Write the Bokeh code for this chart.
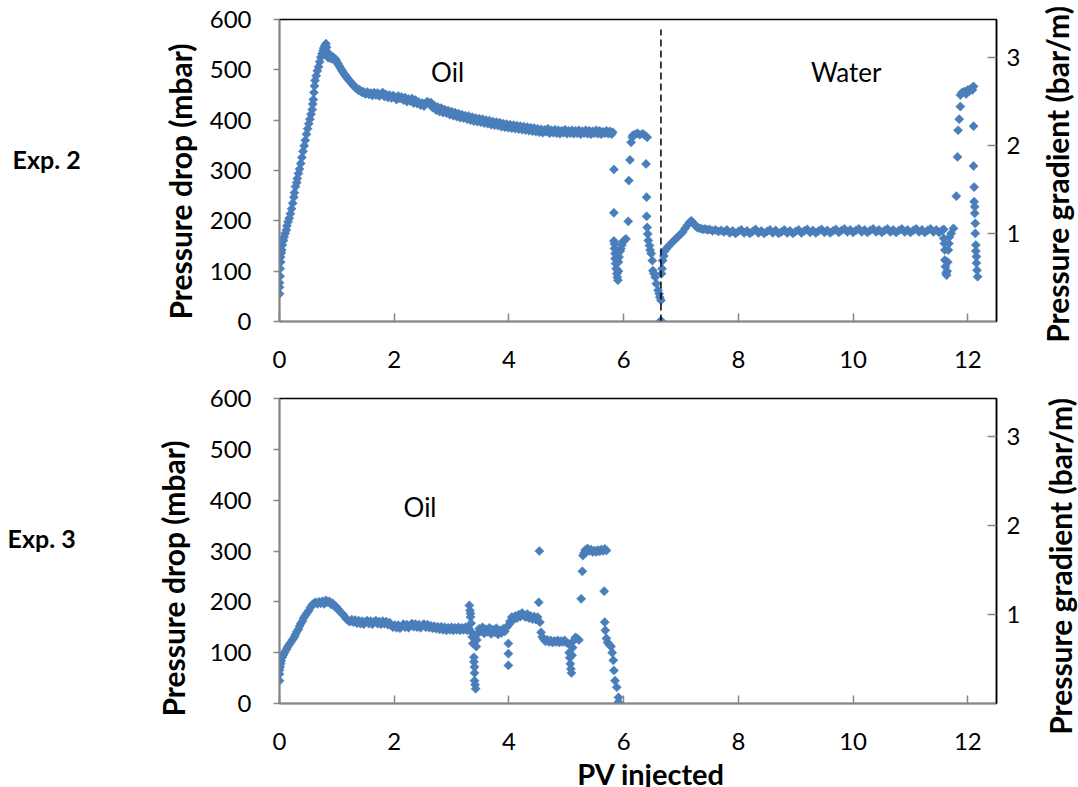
import math
from bokeh.plotting import figure
from bokeh.models import Range1d, LinearAxis, FixedTicker
from bokeh.layouts import column, row
from bokeh.core.properties import value
from bokeh.embed import file_html
from bokeh.resources import INLINE

# ---------------- data ----------------
pv_ticks = [0, 2, 4, 6, 8, 10, 12]
dp_ticks = [0, 100, 200, 300, 400, 500, 600]
gradient_ticks = [1, 2, 3]
gradient_axis_max = 3.43      # 600 mbar expressed as bar/m
switch_pv = 6.65               # oil -> water switch (Exp. 2)
switch_line_dp = [0, 580]

exp2_oil_pv = [
    0.00, 0.00, 0.00, 0.01, 0.01, 0.02, 0.02, 0.03, 0.04, 0.05,
    0.07, 0.08, 0.10, 0.12, 0.13, 0.15, 0.17, 0.19, 0.21, 0.23,
    0.25, 0.26, 0.28, 0.30, 0.31, 0.33, 0.35, 0.37, 0.39, 0.41,
    0.43, 0.45, 0.47, 0.49, 0.51, 0.53, 0.55, 0.57, 0.58, 0.59,
    0.60, 0.61, 0.62, 0.64, 0.66, 0.68, 0.70, 0.72, 0.74, 0.76,
    0.77, 0.79, 0.81, 0.82, 0.83, 0.84, 0.85, 0.86, 0.88, 0.90,
    0.92, 0.94, 0.96, 0.98, 1.00, 1.02, 1.04, 1.06, 1.08, 1.10,
    1.12, 1.14, 1.16, 1.18, 1.20, 1.22, 1.24, 1.26, 1.28, 1.30,
    1.32, 1.34, 1.36, 1.38, 1.40, 1.42, 1.44, 1.46, 1.48, 1.50,
    1.53, 1.56, 1.59, 1.62, 1.65, 1.68, 1.71, 1.74, 1.77, 1.80,
    1.83, 1.86, 1.89, 1.92, 1.95, 1.98, 2.01, 2.04, 2.07, 2.10,
    2.13, 2.16, 2.19, 2.22, 2.25, 2.28, 2.31, 2.34, 2.37, 2.40,
    2.43, 2.46, 2.49, 2.52, 2.55, 2.58, 2.61, 2.64, 2.67, 2.70,
    2.73, 2.76, 2.79, 2.82, 2.85, 2.88, 2.91, 2.94, 2.97, 3.00,
    3.03, 3.06, 3.09, 3.12, 3.15, 3.18, 3.21, 3.24, 3.27, 3.30,
    3.33, 3.36, 3.39, 3.42, 3.45, 3.48, 3.51, 3.54, 3.57, 3.60,
    3.63, 3.66, 3.69, 3.72, 3.75, 3.78, 3.81, 3.84, 3.87, 3.90,
    3.93, 3.96, 3.99, 4.02, 4.05, 4.08, 4.11, 4.14, 4.17, 4.20,
    4.23, 4.26, 4.29, 4.32, 4.35, 4.38, 4.41, 4.44, 4.47, 4.50,
    4.53, 4.56, 4.59, 4.62, 4.65, 4.68, 4.71, 4.74, 4.77, 4.80,
    4.83, 4.86, 4.89, 4.92, 4.95, 4.98, 5.01, 5.04, 5.07, 5.10,
    5.13, 5.16, 5.19, 5.22, 5.25, 5.28, 5.31, 5.34, 5.37, 5.40,
    5.43, 5.46, 5.49, 5.52, 5.55, 5.58, 5.61, 5.64, 5.67, 5.70,
    5.73, 5.76, 5.79,
]
exp2_oil_dp = [
    55, 68, 77, 90, 105, 118, 128, 136, 142, 152,
    161, 168, 175, 182, 190, 198, 205, 214, 224, 235,
    247, 256, 268, 276, 284, 294, 303, 314, 326, 338,
    349, 360, 372, 383, 393, 402, 412, 421, 432, 441,
    455, 468, 479, 488, 498, 506, 516, 525, 532, 538,
    543, 548, 552, 545, 536, 530, 524, 528, 526, 522,
    527, 524, 519, 521, 516, 512, 508, 504, 500, 497,
    493, 490, 487, 484, 481, 478, 476, 473, 470, 468,
    466, 463, 462, 459, 460, 457, 455, 457, 454, 452,
    456, 451, 454, 449, 455, 450, 454, 448, 452, 455,
    447, 451, 445, 450, 444, 449, 446, 441, 448, 443,
    446, 440, 445, 437, 442, 438, 443, 434, 440, 433,
    436, 430, 434, 428, 434, 437, 433, 435, 425, 429,
    420, 426, 417, 424, 415, 421, 414, 419, 411, 417,
    409, 415, 407, 413, 405, 411, 404, 409, 402, 408,
    400, 406, 398, 404, 397, 403, 396, 402, 394, 400,
    393, 399, 391, 397, 390, 396, 389, 395, 387, 393,
    386, 392, 385, 391, 384, 390, 383, 389, 382, 388,
    381, 387, 380, 386, 379, 385, 378, 384, 377, 383,
    376, 382, 375, 381, 377, 383, 374, 380, 375, 381,
    374, 380, 373, 379, 375, 381, 373, 379, 374, 380,
    373, 379, 374, 380, 372, 378, 374, 380, 373, 379,
    372, 378, 374, 380, 373, 379, 372, 377, 374, 379,
    373, 378, 372,
]

exp2_transition_pv = [
    5.81, 5.83, 5.83, 5.83, 5.84, 5.84, 5.85, 5.85, 5.86, 5.87,
    5.88, 5.89, 5.90, 5.91, 5.91, 5.92, 5.94, 5.95, 5.97, 5.98,
    6.01, 6.04, 6.08, 6.09, 6.11, 6.13, 6.15, 6.16, 6.20, 6.24,
    6.28, 6.33, 6.37, 6.41, 6.39, 6.40, 6.40, 6.41, 6.42, 6.43,
    6.45, 6.46, 6.48, 6.50, 6.51, 6.53, 6.55, 6.57, 6.60, 6.62,
    6.63, 6.65, 6.65,
]
exp2_transition_dp = [
    376, 302, 216, 160, 154, 145, 135, 125, 115, 105,
    95, 88, 82, 100, 118, 128, 140, 145, 152, 158,
    161, 164, 199, 280, 321, 356, 366, 370, 372, 374,
    371, 373, 370, 366, 313, 247, 209, 187, 174, 161,
    151, 142, 135, 121, 101, 95, 88, 75, 62, 55,
    48, 42, 2,
]

exp2_water_pv = [
    6.66, 6.67, 6.68, 6.70, 6.71, 6.74, 6.77, 6.81, 6.85, 6.90,
    6.94, 6.99, 7.03, 7.07, 7.11, 7.15, 7.18, 7.21, 7.24, 7.27,
    7.30, 7.34, 7.38, 7.42, 7.46, 7.50, 7.55, 7.60, 7.65, 7.70,
    7.75, 7.80, 7.85, 7.90, 7.95, 8.00, 8.05, 8.10, 8.15, 8.20,
    8.25, 8.30, 8.35, 8.40, 8.45, 8.50, 8.55, 8.60, 8.65, 8.70,
    8.75, 8.80, 8.85, 8.90, 8.95, 9.00, 9.05, 9.10, 9.15, 9.20,
    9.25, 9.30, 9.35, 9.40, 9.45, 9.50, 9.55, 9.60, 9.65, 9.70,
    9.75, 9.80, 9.85, 9.90, 9.95, 10.00, 10.05, 10.10, 10.15, 10.20,
    10.25, 10.30, 10.35, 10.40, 10.45, 10.50, 10.55, 10.60, 10.65, 10.70,
    10.75, 10.80, 10.85, 10.90, 10.95, 11.00, 11.05, 11.10, 11.15, 11.20,
    11.25, 11.30, 11.35, 11.40, 11.45, 11.50, 11.55, 11.58,
]
exp2_water_dp = [
    95, 105, 121, 130, 139, 144, 148, 153, 158, 163,
    168, 173, 178, 185, 191, 197, 200, 196, 192, 188,
    186, 185, 183, 184, 182, 183, 180, 182, 179, 181,
    178, 182, 176, 180, 175, 179, 182, 176, 180, 175,
    179, 183, 176, 180, 175, 179, 182, 176, 181, 175,
    178, 182, 176, 180, 175, 179, 182, 176, 180, 183,
    177, 181, 176, 180, 183, 177, 181, 176, 180, 183,
    177, 181, 184, 178, 182, 177, 181, 184, 178, 182,
    177, 181, 184, 178, 182, 177, 181, 184, 178, 182,
    177, 181, 184, 178, 182, 177, 181, 184, 178, 182,
    177, 181, 184, 178, 182, 177, 181, 183,
]

exp2_end_pv = [
    11.58, 11.59, 11.60, 11.60, 11.61, 11.62, 11.63, 11.64, 11.65, 11.66,
    11.67, 11.68, 11.71, 11.75, 11.80, 11.82, 11.83, 11.85, 11.87, 11.87,
    11.90, 11.94, 11.97, 12.00, 12.03, 12.06, 12.08, 12.10, 12.10, 12.10,
    12.11, 12.11, 12.12, 12.12, 12.13, 12.13, 12.14, 12.14, 12.15, 12.15,
    12.16, 12.17,
]
exp2_end_dp = [
    165, 155, 142, 122, 109, 96, 92, 100, 118, 142,
    155, 168, 175, 185, 249, 327, 380, 402, 427, 450,
    455, 457, 452, 460, 458, 463, 460, 467, 388, 309,
    267, 238, 228, 215, 195, 175, 152, 140, 129, 116,
    102, 89,
]

exp3_oil_pv = [
    0.00, 0.00, 0.00, 0.01, 0.02, 0.03, 0.05, 0.07, 0.09, 0.12,
    0.14, 0.17, 0.20, 0.23, 0.26, 0.28, 0.30, 0.33, 0.35, 0.37,
    0.40, 0.42, 0.45, 0.48, 0.51, 0.54, 0.57, 0.60, 0.63, 0.66,
    0.69, 0.72, 0.75, 0.78, 0.81, 0.84, 0.87, 0.90, 0.93, 0.96,
    0.99, 1.02, 1.05, 1.08, 1.11, 1.14, 1.17, 1.20, 1.23, 1.26,
    1.29, 1.32, 1.35, 1.38, 1.41, 1.44, 1.47, 1.50, 1.53, 1.56,
    1.59, 1.62, 1.65, 1.68, 1.71, 1.74, 1.77, 1.80, 1.83, 1.86,
    1.89, 1.92, 1.95, 1.98, 2.01, 2.04, 2.07, 2.10, 2.13, 2.16,
    2.19, 2.22, 2.25, 2.28, 2.31, 2.34, 2.37, 2.40, 2.43, 2.46,
    2.49, 2.52, 2.55, 2.58, 2.61, 2.64, 2.67, 2.70, 2.73, 2.76,
    2.79, 2.82, 2.85, 2.88, 2.91, 2.94, 2.97, 3.00, 3.03, 3.06,
    3.09, 3.12, 3.15, 3.18, 3.21, 3.24, 3.27, 3.30,
]
exp3_oil_dp = [
    45, 58, 66, 72, 78, 84, 91, 96, 101, 106,
    111, 116, 121, 126, 131, 136, 141, 146, 152, 157,
    162, 168, 173, 178, 183, 189, 194, 197, 199, 196,
    200, 197, 201, 196, 203, 199, 201, 195, 197, 191,
    190, 186, 181, 178, 175, 170, 166, 163, 161, 165,
    160, 164, 158, 163, 157, 162, 156, 161, 163, 157,
    162, 156, 161, 163, 157, 161, 156, 162, 157, 161,
    155, 159, 153, 150, 154, 149, 154, 148, 152, 156,
    150, 155, 149, 154, 157, 151, 156, 150, 155, 149,
    154, 156, 150, 155, 149, 153, 148, 152, 147, 151,
    146, 151, 145, 150, 144, 149, 145, 150, 144, 149,
    145, 150, 144, 149, 145, 150, 144, 148,
]

exp3_late_pv = [
    3.31, 3.32, 3.33, 3.33, 3.34, 3.35, 3.36, 3.37, 3.39, 3.39,
    3.40, 3.40, 3.40, 3.41, 3.42, 3.43, 3.44, 3.46, 3.48, 3.51,
    3.54, 3.57, 3.60, 3.63, 3.66, 3.69, 3.72, 3.75, 3.78, 3.81,
    3.84, 3.87, 3.90, 3.93, 3.96, 3.99, 3.99, 3.99, 4.00, 4.02,
    4.05, 4.08, 4.11, 4.14, 4.17, 4.20, 4.23, 4.26, 4.29, 4.32,
    4.35, 4.38, 4.41, 4.44, 4.47, 4.50, 4.52, 4.53, 4.54, 4.56,
    4.58, 4.61, 4.64, 4.67, 4.70, 4.73, 4.76, 4.79, 4.82, 4.85,
    4.88, 4.91, 4.94, 4.97, 5.00, 5.03, 5.05, 5.06, 5.07, 5.08,
    5.09, 5.10, 5.11, 5.13, 5.16, 5.19, 5.22, 5.26, 5.28, 5.29,
    5.31, 5.33, 5.35, 5.37, 5.40, 5.43, 5.46, 5.49, 5.52, 5.55,
    5.58, 5.61, 5.64, 5.67, 5.70, 5.66, 5.67, 5.68, 5.70, 5.72,
    5.75, 5.78, 5.80, 5.82, 5.83, 5.85, 5.88, 5.91, 5.91,
]
exp3_late_dp = [
    193, 183, 177, 170, 158, 140, 131, 118, 91, 82,
    72, 60, 45, 37, 29, 112, 125, 138, 147, 142,
    150, 138, 146, 141, 149, 137, 145, 140, 148, 136,
    144, 139, 147, 142, 150, 118, 98, 75, 155, 162,
    170, 165, 172, 168, 175, 171, 178, 173, 170, 176,
    168, 172, 166, 171, 165, 170, 199, 300, 160, 140,
    131, 126, 122, 125, 121, 124, 120, 123, 121, 124,
    120, 123, 121, 124, 120, 118, 100, 90, 78, 68,
    60, 95, 110, 124, 130, 128, 125, 206, 260, 291,
    296, 302, 298, 305, 300, 303, 298, 301, 298, 302,
    299, 303, 300, 304, 301, 221, 160, 144, 128, 120,
    116, 112, 100, 85, 65, 45, 32, 12, 3,
]

phase_text_2 = ["Oil", "Water"]
phase_pv_2 = [2.93, 9.88]
phase_dp_2 = [496, 496]
phase_text_3 = ["Oil"]
phase_pv_3 = [2.45]
phase_dp_3 = [386]

exp_names = ["Exp. 2", "Exp. 3"]
left_title = "Pressure drop (mbar)"
right_title = "Pressure gradient (bar/m)"
x_title = "PV injected"

# ---------------- style / layout ----------------
FONT = "Lato"
BLUE = "#4A7EBB"
GREY = "#868686"
PAGE_H = 787
LEFT_W = 205
RIGHT_W = 55
MAIN_W = 1078 - LEFT_W - RIGHT_W
P1_H = 383
P2_H = 379
BOTTOM_H = PAGE_H - P1_H - P2_H


def make_panel(height, b_top, b_bottom, pv, dp, texts, tpv, tdp):
    p = figure(width=MAIN_W, height=height, x_range=Range1d(0, 12.5), y_range=Range1d(0, 600),
               output_backend="svg", toolbar_location=None, title=None,
               min_border_left=279 - LEFT_W, min_border_right=MAIN_W - (997 - LEFT_W),
               min_border_top=b_top, min_border_bottom=b_bottom)
    p.xgrid.visible = False
    p.ygrid.visible = False
    p.outline_line_color = "black"
    p.outline_line_width = 1.5
    p.extra_y_ranges = {"grad": Range1d(0, gradient_axis_max)}

    xa = p.xaxis[0]
    xa.ticker = FixedTicker(ticks=pv_ticks)
    xa.major_tick_in = 8
    xa.major_tick_out = 0
    xa.minor_tick_line_color = None
    xa.axis_line_color = GREY
    xa.axis_line_width = 1.5
    xa.major_tick_line_color = GREY
    xa.major_tick_line_width = 1.5
    xa.major_label_text_font = FONT
    xa.major_label_text_font_size = "24px"
    xa.major_label_text_color = "black"
    xa.major_label_standoff = 29

    ya = p.yaxis[0]
    ya.ticker = FixedTicker(ticks=dp_ticks)
    ya.major_tick_in = 0
    ya.major_tick_out = 6
    ya.minor_tick_line_color = None
    ya.axis_line_color = GREY
    ya.axis_line_width = 1.5
    ya.major_tick_line_color = GREY
    ya.major_tick_line_width = 1.5
    ya.major_label_text_font = FONT
    ya.major_label_text_font_size = "24px"
    ya.major_label_text_color = "black"
    ya.major_label_standoff = 22

    ra = LinearAxis(y_range_name="grad", ticker=FixedTicker(ticks=gradient_ticks))
    ra.major_tick_in = 9
    ra.major_tick_out = 0
    ra.minor_tick_line_color = None
    ra.axis_line_color = "black"
    ra.axis_line_width = 1.5
    ra.major_tick_line_color = GREY
    ra.major_tick_line_width = 1.5
    ra.major_label_text_font = FONT
    ra.major_label_text_font_size = "24px"
    ra.major_label_text_color = "black"
    ra.major_label_standoff = 10
    p.add_layout(ra, "right")

    p.scatter(pv, dp, marker="square", angle=math.pi / 4, size=6.5,
              fill_color=BLUE, line_color=BLUE, line_width=0.5)

    p.text(x=tpv, y=tdp, text=texts, text_font=value(FONT), text_font_size="26px",
           text_align="center", text_baseline="middle", text_color="black")
    return p


def blank_canvas(width, height):
    s = figure(width=width, height=height, x_range=Range1d(0, width), y_range=Range1d(0, height),
               output_backend="svg", toolbar_location=None, title=None,
               x_axis_type=None, y_axis_type=None, min_border=0)
    s.xgrid.visible = False
    s.ygrid.visible = False
    s.outline_line_color = None
    return s


pv2 = exp2_oil_pv + exp2_transition_pv + exp2_water_pv + exp2_end_pv
dp2 = exp2_oil_dp + exp2_transition_dp + exp2_water_dp + exp2_end_dp
pv3 = exp3_oil_pv + exp3_late_pv
dp3 = exp3_oil_dp + exp3_late_dp

p1 = make_panel(P1_H, 19, 62, pv2, dp2, phase_text_2, phase_pv_2, phase_dp_2)
p1.segment(x0=[switch_pv], y0=[switch_line_dp[0]], x1=[switch_pv], y1=[switch_line_dp[1]],
           line_color="black", line_width=1.5, line_dash="7 4")
p2 = make_panel(P2_H, 15, P2_H - 15 - 305, pv3, dp3, phase_text_3, phase_pv_3, phase_dp_3)

# strip under the bottom panel: x-axis title (page y of text centre ~773)
bottom = blank_canvas(MAIN_W, BOTTOM_H)
bottom.text(x=[629 - LEFT_W], y=[PAGE_H - 773], text=[x_title], text_font=value(FONT),
            text_font_style="bold", text_font_size="29px", text_align="center",
            text_baseline="middle", text_color="black")

# left strip: experiment names and left axis titles (page pixel positions)
left = blank_canvas(LEFT_W, PAGE_H)
left.text(x=[12, 7], y=[PAGE_H - 158.5, PAGE_H - 537.5], text=exp_names,
          text_font=value(FONT), text_font_style="bold", text_font_size="25px",
          text_align="left", text_baseline="middle", text_color="black")
left.text(x=[179.5, 172.5], y=[PAGE_H - 181, PAGE_H - 578], text=[left_title, left_title],
          angle=math.pi / 2, text_font=value(FONT), text_font_style="bold",
          text_font_size="30px", text_align="center", text_baseline="middle", text_color="black")

# right strip: right axis titles
right = blank_canvas(RIGHT_W, PAGE_H)
right.text(x=[1056.3 - (1078 - RIGHT_W), 1059 - (1078 - RIGHT_W)], y=[PAGE_H - 174, PAGE_H - 566],
           text=[right_title, right_title], angle=math.pi / 2, text_font=value(FONT),
           text_font_style="bold", text_font_size="30px", text_align="center",
           text_baseline="middle", text_color="black")

layout = row(left, column(p1, p2, bottom, spacing=0), right, spacing=0)
open("out.html", "w").write(file_html(layout, INLINE))
